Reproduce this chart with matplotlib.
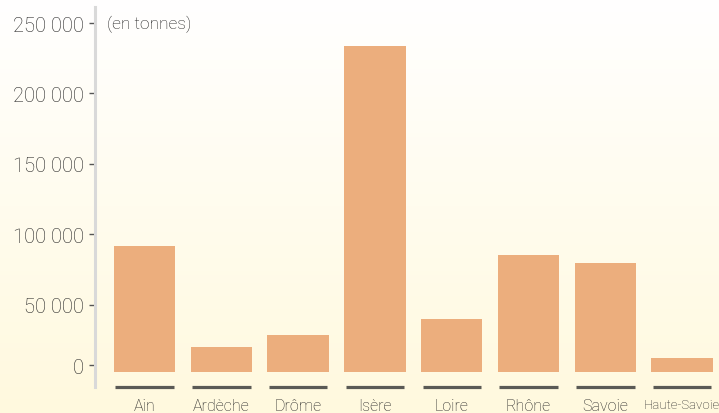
import numpy as np
import matplotlib
matplotlib.use('Agg')
import matplotlib.pyplot as plt
from matplotlib.colors import LinearSegmentedColormap

plt.rcParams['font.family'] = ['Roboto', 'DejaVu Sans']

# data (tonnes)
departements = ['Ain', 'Ardèche', 'Drôme', 'Isère', 'Loire', 'Rhône', 'Savoie', 'Haute-Savoie']
tonnes = [92000, 20000, 28500, 234000, 40000, 85000, 79500, 12000]
tick_values = [7000, 50000, 100000, 150000, 200000, 250000]
tick_labels = ['0', '50 000', '100 000', '150 000', '200 000', '250 000']

bar_color = '#ECAE7D'
base = 2200  # bars start slightly above the axis zero, as in the original

fig = plt.figure(figsize=(7.19, 4.14), dpi=100)

# background gradient: white at top, pale yellow at bottom
bg = fig.add_axes([0, 0, 1, 1], zorder=-10)
grad = np.linspace(0, 1, 256).reshape(-1, 1)
cmap = LinearSegmentedColormap.from_list('bg', ['#FFF9DE', '#FFFCEE', '#FFFFFF'])
bg.imshow(grad, aspect='auto', cmap=cmap, origin='lower', extent=[0, 1, 0, 1])
bg.axis('off')

W, H = 719, 414
left, right, top, bottom = 95, 719, 8, 388
ax = fig.add_axes([left / W, 1 - bottom / H, (right - left) / W, (bottom - top) / H])
ax.set_facecolor('none')

x = np.arange(len(departements))
heights = [t - base for t in tonnes]
ax.bar(x, heights, width=0.8, bottom=base, color=bar_color, zorder=2)
ax.set_xlim(-0.645, 7.48)
ax.set_ylim(-8450, 261400)

# dark underline under each bar
ax.hlines([-8450] * len(x), x - 0.38, x + 0.38, color='#5a5a55', lw=2.3, clip_on=False, zorder=3)

for s in ['top', 'right', 'bottom']:
    ax.spines[s].set_visible(False)
ax.spines['left'].set_color('#d9d9d9')
ax.spines['left'].set_linewidth(2.2)

ax.set_yticks(tick_values)
ax.set_yticklabels(tick_labels, fontsize=14.5, color='#222222', fontweight='light')
ax.tick_params(axis='y', length=4, width=1, color='#555555', pad=4)

ax.set_xticks(x)
ax.set_xticklabels(departements, fontsize=11.5, color='#222222', fontweight='light')
for lbl in ax.get_xticklabels():
    if lbl.get_text() == 'Haute-Savoie':
        lbl.set_fontsize(9.5)
ax.tick_params(axis='x', length=0, pad=8)

ax.text(12 / (right - left), 250000, '(en tonnes)', transform=ax.get_yaxis_transform(),
        fontsize=12.5, color='#1a1a1a', fontweight='light', va='center')

fig.savefig('out.png', dpi=100)
